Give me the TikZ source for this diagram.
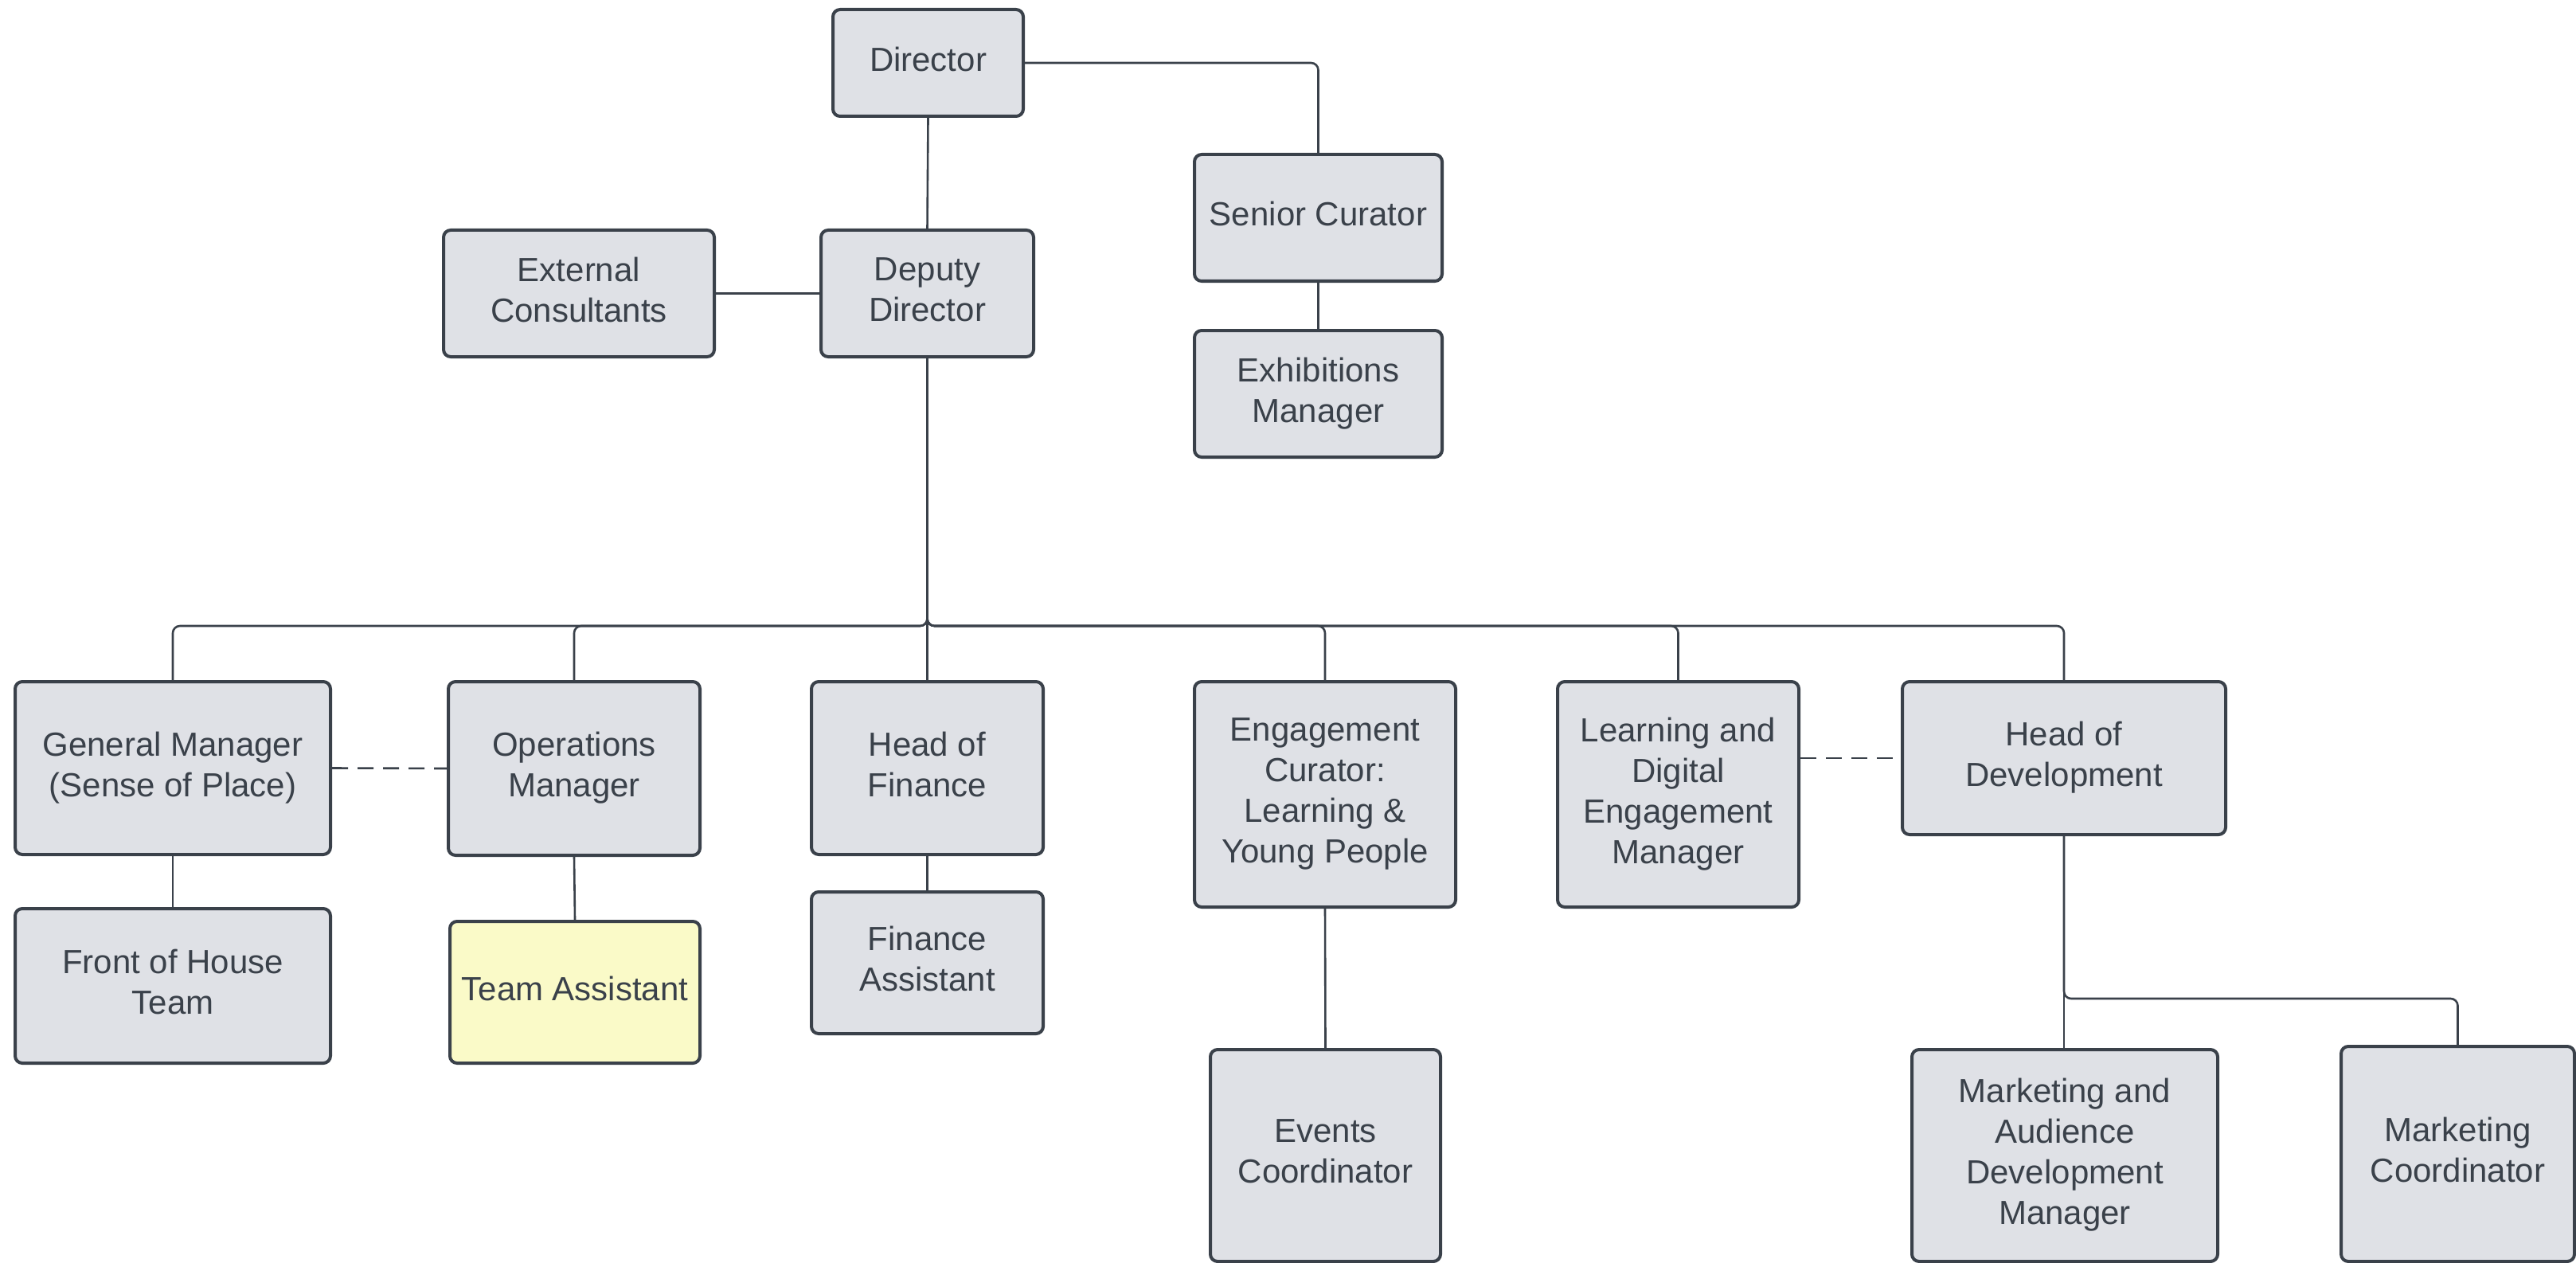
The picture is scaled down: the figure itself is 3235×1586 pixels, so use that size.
\documentclass[tikz,border=0pt]{standalone}
\usepackage{fontspec}
\setmainfont{Liberation Sans}
\definecolor{linec}{HTML}{3A414A}
\definecolor{boxfill}{HTML}{DFE1E6}
\definecolor{notefill}{HTML}{FAFAC8}
\begin{document}
\begin{tikzpicture}[x=1pt,y=-1pt,
  box/.style={draw=linec, fill=boxfill, line width=4pt, rounded corners=9pt,
    inner sep=0pt, align=center, text=linec, text depth=10pt,
    font=\fontsize{42}{51}\selectfont},
  conn/.style={draw=linec, line width=2.6pt, rounded corners=9pt},
  dotted link/.style={conn, dash pattern=on 20pt off 12pt}]
\useasboundingbox (0,0) rectangle (3235,1586);
\fill[white] (0,0) rectangle (3235,1586);

% top management
\node[box, minimum width=239pt, minimum height=134pt] (dir) at (1165.5,79) {Director};
\node[box, minimum width=311pt, minimum height=159pt] (sc) at (1655.5,273.5) {Senior Curator};
\node[box, minimum width=311pt, minimum height=159pt] (exm) at (1655.5,494.5) {Exhibitions\\Manager};
\node[box, minimum width=340pt, minimum height=159pt] (ext) at (727,368.5) {External\\Consultants};
\node[box, minimum width=267pt, minimum height=159pt] (dd) at (1164.5,368.5) {Deputy\\Director};

% heads of department
\node[box, minimum width=396pt, minimum height=217pt] (gm) at (217,964.5) {General Manager\\(Sense of Place)};
\node[box, minimum width=316pt, minimum height=218pt] (ops) at (721,965) {Operations\\Manager};
\node[box, minimum width=291pt, minimum height=217pt] (hof) at (1164.5,964.5) {Head of\\Finance};
\node[box, minimum width=328pt, minimum height=283pt] (eng) at (1664,997.5) {Engagement\\Curator:\\Learning \&\\Young People};
\node[box, minimum width=303pt, minimum height=283pt] (ld) at (2107.5,997.5) {Learning and\\Digital\\Engagement\\Manager};
\node[box, minimum width=406pt, minimum height=192pt] (hod) at (2592,952) {Head of\\Development};

% teams
\node[box, minimum width=396pt, minimum height=194pt] (foh) at (217,1238) {Front of House\\Team};
\node[box, fill=notefill, minimum width=314pt, minimum height=178pt] (ta) at (722,1246) {Team Assistant};
\node[box, minimum width=291pt, minimum height=178pt] (fa) at (1164.5,1209) {Finance\\Assistant};
\node[box, minimum width=289pt, minimum height=266pt] (ec) at (1664.5,1451) {Events\\Coordinator};
\node[box, minimum width=384pt, minimum height=266pt] (madm) at (2593,1451) {Marketing and\\Audience\\Development\\Manager};
\node[box, minimum width=293pt, minimum height=270pt] (mc) at (3086.5,1449) {Marketing\\Coordinator};

% routing levels
\coordinate (bus) at (0,786);
\coordinate (branch) at (0,1254);

% reporting lines
\draw[conn] (dir.east) -| (sc.north);
\draw[conn] (dir.south) -- (dd.north);
\draw[conn] (sc.south) -- (exm.north);
\draw[conn] (ext.east) -- (dd.west);
\foreach \c in {gm,ops,eng,ld,hod}{
  \draw[conn] (dd.south) -- (dd.south |- bus) -| (\c.north);
}
\draw[conn] (dd.south) -- (hof.north);
\draw[conn] (gm.south) -- (foh.north);
\draw[conn] (ops.south) -- (ta.north);
\draw[conn] (hof.south) -- (fa.north);
\draw[conn] (eng.south) -- (ec.north);
\draw[conn] (hod.south) -- (hod.south |- madm.north);
\draw[conn] (hod.south) -- (hod.south |- branch) -| (mc.north);

% dotted-line relationships
\draw[dotted link] (gm.east) -- (ops.west);
\draw[dotted link] (ld.east |- hod.west) -- (hod.west);
\end{tikzpicture}
\end{document}
